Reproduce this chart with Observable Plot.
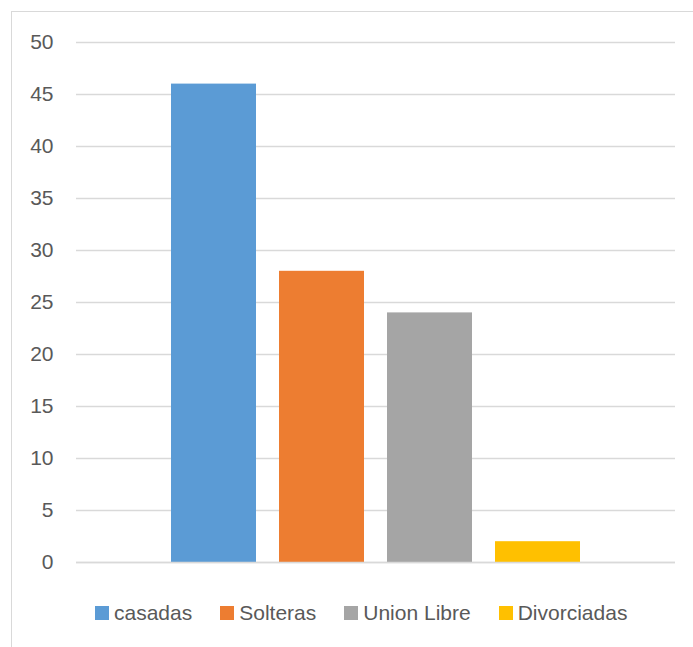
<!DOCTYPE html>
<html>
<head>
<meta charset="utf-8">
<script src="https://cdn.jsdelivr.net/npm/d3@7"></script>
<script src="https://cdn.jsdelivr.net/npm/@observablehq/plot@0.6"></script>
<style>
  html, body { margin: 0; padding: 0; background: #fff; overflow: hidden; width: 693px; height: 647px; }
  #frame { position: absolute; left: 11px; top: 11px; width: 800px; height: 800px; border: 1.5px solid #d9d9d9; }
  #chart { position: absolute; left: 0; top: 0; }
  #legend { position: absolute; left: 95px; top: 601px; display: flex; align-items: center;
            font-family: "Liberation Sans", Arial, sans-serif; font-size: 21px; color: #595959; }
  .item { display: flex; align-items: center; margin-right: 28px; }
  .sw { width: 14px; height: 14px; margin-right: 5px; }
</style>
</head>
<body>
<div id="frame"></div>
<div id="chart"></div>
<div id="legend"></div>
<script>
const categories = ["casadas", "Solteras", "Union Libre", "Divorciadas"];
const values = [46, 28, 24, 2];
const colors = ["#5B9BD5", "#ED7D31", "#A5A5A5", "#FFC000"];
const yTicks = [0, 5, 10, 15, 20, 25, 30, 35, 40, 45, 50];

const data = categories.map((c, i) => ({category: c, value: values[i]}));

const chart = Plot.plot({
  width: 693,
  height: 580,
  marginLeft: 76,
  marginRight: 18,
  marginTop: 42,
  marginBottom: 18,
  style: {fontFamily: "'Liberation Sans', Arial, sans-serif", fontSize: "21px", color: "#595959", background: "transparent", overflow: "visible"},
  x: {domain: categories, paddingInner: 0.21, paddingOuter: 0.865, axis: null},
  y: {domain: [0, 50], ticks: yTicks, tickSize: 0, tickPadding: 23, label: null},
  color: {domain: categories, range: colors},
  marks: [
    Plot.ruleY(yTicks, {stroke: "#d9d9d9", strokeWidth: 1.5}),
    Plot.barY(data, {x: "category", y: "value", fill: "category"}),
    Plot.ruleY([0], {stroke: "#d9d9d9", strokeWidth: 1.5})
  ]
});
chart.querySelectorAll("g[aria-label='y-axis tick label'] text, g[aria-label='y-axis tick label']").forEach(e => { e.setAttribute("fill", "#595959"); e.setAttribute("font-size", "21"); });
document.getElementById("chart").appendChild(chart);

const legend = document.getElementById("legend");
categories.forEach((c, i) => {
  const item = document.createElement("div");
  item.className = "item";
  const sw = document.createElement("div");
  sw.className = "sw";
  sw.style.background = colors[i];
  const t = document.createElement("span");
  t.textContent = c;
  item.appendChild(sw);
  item.appendChild(t);
  legend.appendChild(item);
});
</script>
</body>
</html>
